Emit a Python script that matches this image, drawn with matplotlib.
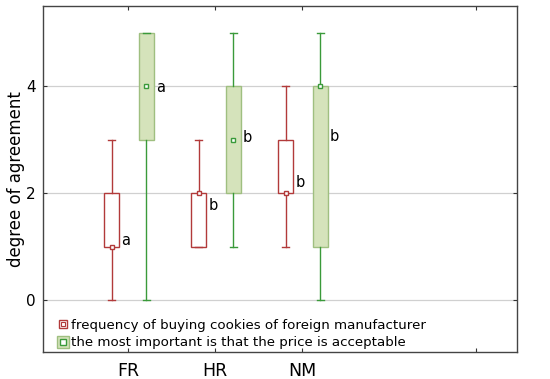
import matplotlib
matplotlib.use("Agg")
import matplotlib.pyplot as plt
from matplotlib.lines import Line2D

categories = ["FR", "HR", "NM"]
# frequency of buying cookies of foreign manufacturer
freq_min = [0, 1, 1]
freq_q1 = [1, 1, 2]
freq_med = [1, 2, 2]
freq_q3 = [2, 2, 3]
freq_max = [3, 3, 4]
freq_letters = ["a", "b", "b"]
freq_letter_y = [1.12, 1.78, 2.2]
# the most important is that the price is acceptable
price_min = [0, 1, 0]
price_q1 = [3, 2, 1]
price_med = [4, 3, 4]
price_q3 = [5, 4, 4]
price_max = [5, 5, 5]
price_letters = ["a", "b", "b"]
price_letter_y = [3.97, 3.04, 3.07]

plt.rcParams['font.family'] = ['DejaVu Sans']
red = "#b23a3a"
green = "#3a9a3a"
gfill = "#d5e3bb"
gedge = "#9fbf80"

fig = plt.figure(figsize=(5.5, 3.79), dpi=100)
ax = fig.add_axes([0.078, 0.071, 0.862, 0.913])

pos = list(range(1, len(categories) + 1))
off_r, off_g, w = -0.19, 0.21, 0.165

def stats(mn, q1, md, q3, mx):
    return [dict(whislo=a, q1=b, med=c, q3=d, whishi=e, fliers=[])
            for a, b, c, d, e in zip(mn, q1, md, q3, mx)]

ax.bxp(stats(freq_min, freq_q1, freq_med, freq_q3, freq_max),
       positions=[p + off_r for p in pos], widths=w, showfliers=False,
       patch_artist=True,
       boxprops=dict(facecolor="white", edgecolor=red, linewidth=1.0),
       whiskerprops=dict(color=red, linewidth=1.0),
       capprops=dict(color=red, linewidth=1.0),
       medianprops=dict(linestyle="none"), capwidths=0.08, zorder=3)
ax.bxp(stats(price_min, price_q1, price_med, price_q3, price_max),
       positions=[p + off_g for p in pos], widths=w, showfliers=False,
       patch_artist=True,
       boxprops=dict(facecolor=gfill, edgecolor=gedge, linewidth=1.0),
       whiskerprops=dict(color=green, linewidth=1.0),
       capprops=dict(color=green, linewidth=1.0),
       medianprops=dict(linestyle="none"), capwidths=0.08, zorder=3)

ax.plot([p + off_r for p in pos], freq_med, "s", ms=3.5, mfc="white",
        mec=red, mew=1.0, ls="none", zorder=4)
ax.plot([p + off_g for p in pos], price_med, "s", ms=3.5, mfc="white",
        mec=green, mew=1.0, ls="none", zorder=4)

for p, t, y in zip(pos, freq_letters, freq_letter_y):
    ax.text(p + off_r + 0.11, y, t, fontsize=10.5, va="center", ha="left", zorder=5)
for p, t, y in zip(pos, price_letters, price_letter_y):
    ax.text(p + off_g + 0.11, y, t, fontsize=10.5, va="center", ha="left", zorder=5)

ax.set_xlim(0.02, 5.47)
ax.set_ylim(-0.97, 5.5)
ax.set_xticks(pos + [5])
ax.set_xticklabels(categories + [""], fontsize=12.5)
ax.set_yticks([0, 2, 4])
ax.set_yticklabels(["0", "2", "4"], fontsize=11)
ax.tick_params(axis="x", direction="in", length=3, top=True, pad=7, colors="#333333", labelcolor="black")
ax.tick_params(axis="y", direction="in", length=3, right=True, pad=5, colors="#333333", labelcolor="black")
ax.yaxis.grid(True, color="#d0d0d0", linewidth=0.9)
ax.set_axisbelow(True)
for s in ax.spines.values():
    s.set_color("#444444")
    s.set_linewidth(1.0)
ax.set_ylabel("degree of agreement", fontsize=12, labelpad=1)

h1 = Line2D([], [], marker="s", ms=6, mfc="white", mec=red, mew=1.0, ls="none")
h1b = Line2D([], [], marker="s", ms=2.2, mfc="white", mec=red, mew=0.8, ls="none")
h2 = Line2D([], [], marker="s", ms=8, mfc=gfill, mec=gedge, mew=1.0, ls="none")
h2b = Line2D([], [], marker="s", ms=4, mfc="white", mec=green, mew=1.0, ls="none")
ax.legend([(h1, h1b), (h2, h2b)],
          ["frequency of buying cookies of foreign manufacturer",
           "the most important is that the price is acceptable"],
          loc="lower left", bbox_to_anchor=(0.018, -0.015), frameon=False,
          fontsize=9.6, handlelength=0.6, handletextpad=0.3, labelspacing=0.35,
          borderaxespad=0.2)

fig.savefig("out.png", dpi=100)
